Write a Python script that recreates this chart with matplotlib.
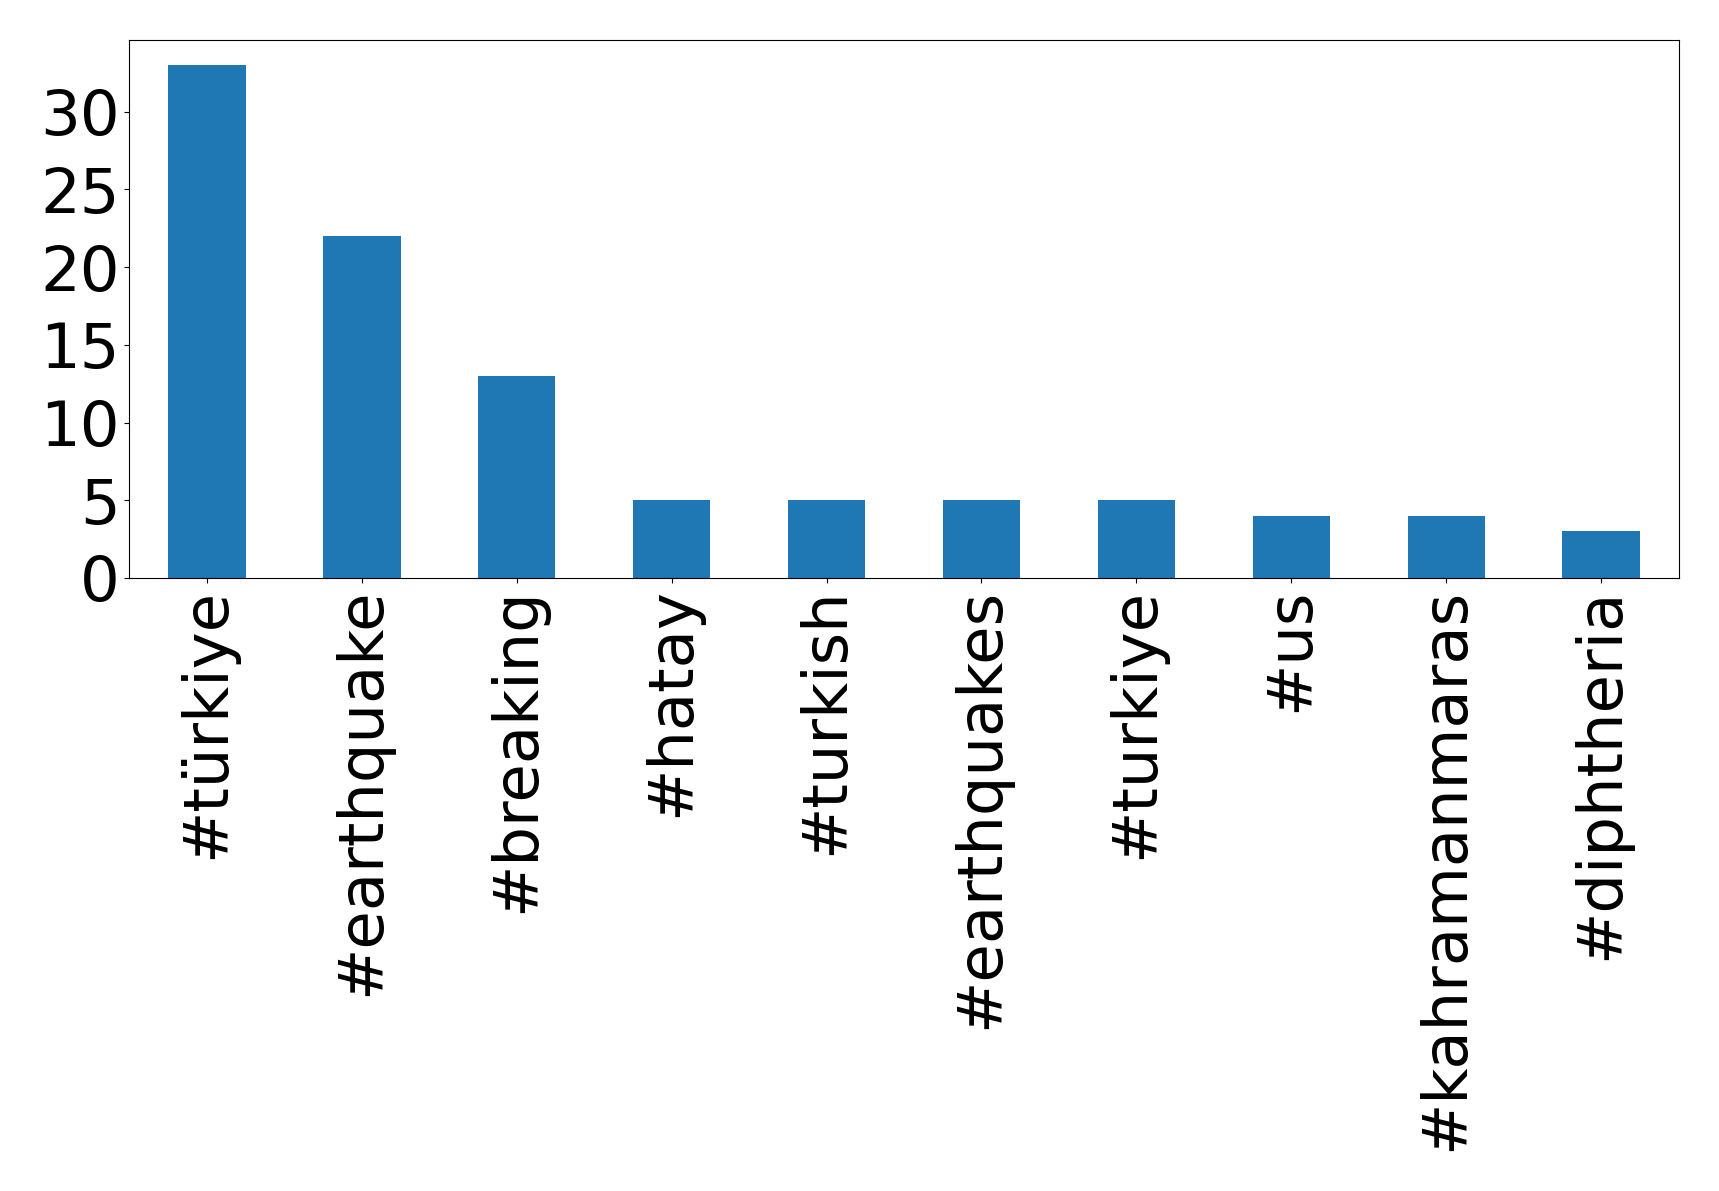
import matplotlib
matplotlib.use("Agg")
import matplotlib.pyplot as plt
from matplotlib.ticker import MultipleLocator

hashtags = ["#türkiye", "#earthquake", "#breaking", "#hatay", "#turkish",
            "#earthquakes", "#turkiye", "#us", "#kahramanmaras", "#diphtheria"]
counts = [33, 22, 13, 5, 5, 5, 5, 4, 4, 3]

fig = plt.figure(figsize=(17.19, 11.91), dpi=100)
ax = fig.add_axes([0.0753, 0.5148, 0.9012, 0.4520])
x = range(len(hashtags))
ax.bar(x, counts, width=0.5, color="#1f77b4")
ax.set_xticks(list(x))
ax.set_xticklabels(hashtags, rotation=90, fontsize=45)
ax.yaxis.set_major_locator(MultipleLocator(5))
ax.tick_params(axis="y", labelsize=45)
ax.set_xlim(-0.5, len(hashtags) - 0.5)
plt.savefig("out.png", dpi=100)
